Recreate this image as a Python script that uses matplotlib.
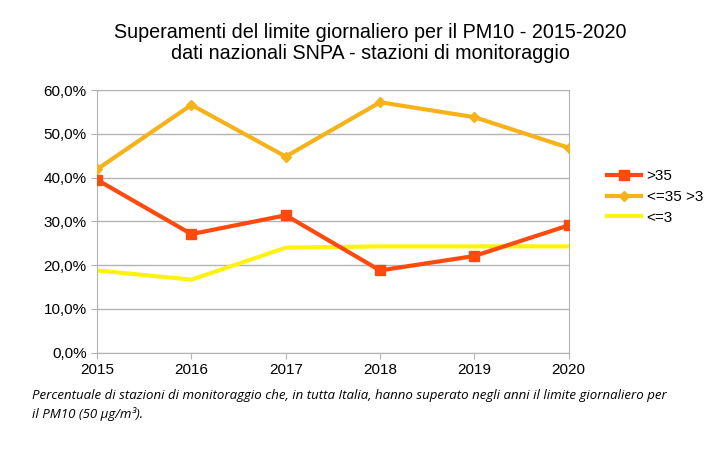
import matplotlib
matplotlib.use("Agg")
import matplotlib.pyplot as plt
from matplotlib.ticker import FuncFormatter

years = [2015, 2016, 2017, 2018, 2019, 2020]
over35 = [39.5, 27.1, 31.4, 18.8, 22.1, 29.1]
mid = [41.9, 56.6, 44.8, 57.2, 53.8, 46.8]
under3 = [18.8, 16.7, 24.0, 24.3, 24.3, 24.3]
labels = [">35", "<=35 >3", "<=3"]
title = "Superamenti del limite giornaliero per il PM10 - 2015-2020\ndati nazionali SNPA - stazioni di monitoraggio"
caption = ("Percentuale di stazioni di monitoraggio che, in tutta Italia, hanno superato negli anni il limite giornaliero per\n"
           "il PM10 (50 µg/m³).")

plt.rcParams['font.family'] = ['Liberation Sans', 'DejaVu Sans']
fig = plt.figure(figsize=(7.19, 4.5), dpi=100)
ax = fig.add_axes([0.135, 0.216, 0.656, 0.584])

ax.plot(years, over35, color='#FF4A0E', lw=3, marker='s', ms=7, label=labels[0], zorder=4)
ax.plot(years, mid, color='#F5B21A', lw=3, marker='D', ms=5, label=labels[1], zorder=3)
ax.plot(years, under3, color='#FFF213', lw=3, label=labels[2], zorder=2)

ax.set_xlim(2015, 2020)
ax.set_ylim(0, 60)
ax.set_xticks(years)
ax.set_yticks(range(0, 61, 10))
ax.yaxis.set_major_formatter(FuncFormatter(lambda v, p: f"{v:.1f}%".replace('.', ',')))
ax.grid(axis='y', color='#b3b3b3', lw=1)
for s in ax.spines.values():
    s.set_color('#b3b3b3')
ax.tick_params(colors='#b3b3b3', labelcolor='black', labelsize=11, length=4)
ax.set_axisbelow(True)

fig.text(0.515, 0.86, title, ha='center', va='bottom', fontsize=14.2, linespacing=1.1)
leg = fig.legend(loc='upper left', bbox_to_anchor=(0.825, 0.655), frameon=False, fontsize=11,
                 handlelength=2.2, labelspacing=0.45, handletextpad=0.4)
fig.text(0.044, 0.135, caption, ha='left', va='top', fontsize=9.5, style='italic',
         family=['Open Sans', 'DejaVu Sans'], linespacing=1.45)

fig.savefig("out.png", dpi=100)
